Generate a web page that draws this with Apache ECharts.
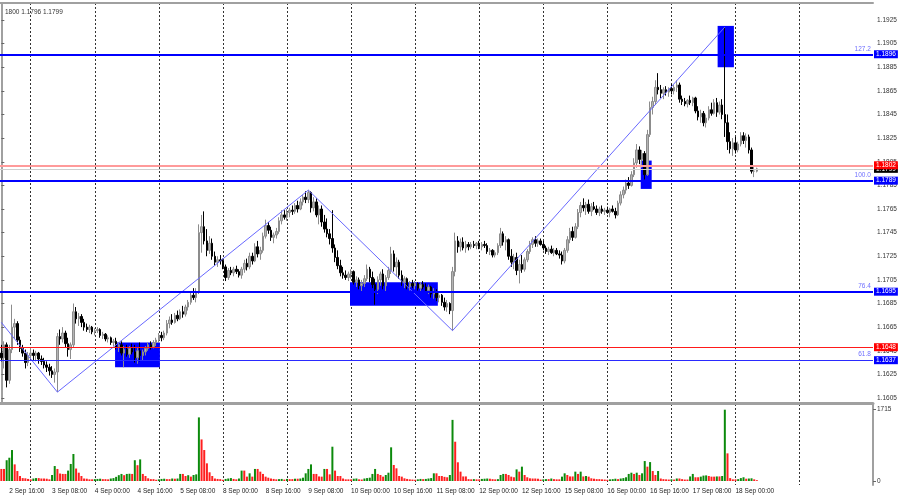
<!DOCTYPE html>
<html><head><meta charset="utf-8">
<script src="https://cdn.jsdelivr.net/npm/echarts@6/dist/echarts.min.js"></script>
<style>html,body{margin:0;padding:0;background:#fff}#c{width:900px;height:500px}</style>
</head><body><div id="c"></div>
<script>
// Hourly EURUSD candles, 2 Sep 13:00 .. 18 Sep 08:00 (284 bars)
const opens = [
1.1643,1.1639,1.1650,1.1620,1.1646,1.1665,1.1668,1.1654,1.1647,1.1643,1.1635,
1.1641,1.1643,1.1641,1.1643,1.1638,1.1636,1.1633,1.1631,1.1628,1.1625,1.1627,1.1657,1.1655,1.1660,1.1651,1.1646,1.1650,1.1678,1.1672,1.1674,1.1669,1.1665,1.1663,1.1665,
1.1661,1.1662,1.1663,1.1658,1.1659,1.1655,1.1656,1.1652,1.1653,1.1648,1.1650,1.1643,1.1646,1.1642,1.1647,1.1644,1.1639,1.1645,1.1641,1.1644,1.1647,1.1650,1.1648,1.1652,
1.1654,1.1658,1.1656,1.1660,1.1668,1.1671,1.1669,1.1675,1.1672,1.1678,1.1676,1.1682,1.1686,1.1692,1.1690,1.1695,1.1745,1.1750,1.1738,1.1730,1.1736,1.1725,1.1720,1.1722,
1.1721,1.1716,1.1707,1.1713,1.1711,1.1714,1.1712,1.1709,1.1714,1.1719,1.1716,1.1725,1.1721,1.1733,1.1727,1.1730,1.1742,1.1751,1.1747,1.1741,1.1743,1.1746,1.1755,1.1760,
1.1758,1.1762,1.1764,1.1763,1.1768,1.1765,1.1771,1.1775,1.1773,1.1779,1.1766,1.1771,1.1760,1.1765,1.1754,1.1748,1.1744,1.1740,1.1732,1.1724,1.1717,1.1711,1.1709,1.1707,
1.1710,1.1712,1.1703,1.1705,1.1700,1.1702,1.1706,1.1714,1.1707,1.1701,1.1697,1.1705,1.1710,1.1700,1.1707,1.1713,1.1727,1.1716,1.1720,1.1709,1.1703,1.1706,1.1699,1.1702,
1.1700,1.1702,1.1698,1.1701,1.1699,1.1696,1.1699,1.1693,1.1695,1.1690,1.1692,1.1686,1.1682,1.1685,1.1679,1.1712,1.1738,1.1733,1.1737,1.1732,1.1735,1.1733,1.1735,1.1734,
1.1736,1.1733,1.1735,1.1734,1.1729,1.1730,1.1726,1.1728,1.1734,1.1744,1.1737,1.1739,1.1725,1.1720,1.1724,1.1713,1.1718,1.1714,1.1722,1.1729,1.1735,1.1739,1.1736,1.1738,
1.1735,1.1732,1.1729,1.1731,1.1728,1.1730,1.1727,1.1726,1.1721,1.1730,1.1739,1.1746,1.1741,1.1750,1.1762,1.1768,1.1766,1.1769,1.1763,1.1767,1.1765,1.1762,1.1765,1.1763,
1.1764,1.1762,1.1765,1.1763,1.1760,1.1770,1.1777,1.1781,1.1787,1.1785,1.1794,1.1804,1.1815,1.1807,1.1812,1.1794,1.1828,1.1851,1.1856,1.1868,1.1866,1.1863,1.1866,1.1864,
1.1867,1.1865,1.1868,1.1870,1.1858,1.1856,1.1854,1.1857,1.1855,1.1859,1.1848,1.1843,1.1846,1.1838,1.1842,1.1849,1.1846,1.1855,1.1847,1.1853,1.1845,1.1838,1.1822,1.1816,
1.1821,1.1815,1.1820,1.1827,1.1823,1.1826,1.1815,1.1797,1.1797
];
const highs = [
1.1650,1.1653,1.1652,1.1650,1.1684,1.1672,1.1670,1.1657,1.1650,1.1646,1.1644,
1.1648,1.1646,1.1645,1.1644,1.1641,1.1639,1.1636,1.1634,1.1632,1.1630,1.1660,1.1663,1.1665,1.1662,1.1656,1.1652,1.1685,1.1682,1.1677,1.1676,1.1672,1.1668,1.1667,1.1666,
1.1664,1.1665,1.1664,1.1661,1.1660,1.1658,1.1657,1.1655,1.1656,1.1652,1.1653,1.1649,1.1650,1.1649,1.1651,1.1650,1.1648,1.1652,1.1646,1.1649,1.1652,1.1653,1.1654,1.1656,
1.1660,1.1661,1.1662,1.1671,1.1674,1.1676,1.1677,1.1679,1.1680,1.1683,1.1684,1.1688,1.1695,1.1698,1.1698,1.1752,1.1760,1.1763,1.1748,1.1742,1.1740,1.1729,1.1725,1.1726,
1.1723,1.1718,1.1715,1.1716,1.1716,1.1717,1.1714,1.1716,1.1722,1.1723,1.1728,1.1728,1.1736,1.1738,1.1733,1.1745,1.1756,1.1754,1.1750,1.1745,1.1749,1.1758,1.1764,1.1764,
1.1765,1.1766,1.1768,1.1770,1.1772,1.1774,1.1777,1.1780,1.1781,1.1780,1.1775,1.1774,1.1768,1.1768,1.1760,1.1757,1.1748,1.1764,1.1735,1.1730,1.1722,1.1716,1.1713,1.1712,
1.1714,1.1713,1.1708,1.1707,1.1705,1.1709,1.1718,1.1716,1.1712,1.1706,1.1708,1.1712,1.1714,1.1709,1.1716,1.1733,1.1730,1.1724,1.1722,1.1713,1.1708,1.1707,1.1704,1.1705,
1.1704,1.1703,1.1703,1.1704,1.1702,1.1701,1.1700,1.1698,1.1697,1.1694,1.1693,1.1690,1.1688,1.1686,1.1716,1.1745,1.1742,1.1740,1.1741,1.1738,1.1737,1.1737,1.1738,1.1737,
1.1738,1.1737,1.1738,1.1736,1.1732,1.1731,1.1730,1.1736,1.1749,1.1746,1.1742,1.1740,1.1731,1.1727,1.1728,1.1722,1.1726,1.1724,1.1731,1.1738,1.1741,1.1742,1.1740,1.1740,
1.1738,1.1734,1.1733,1.1734,1.1732,1.1732,1.1730,1.1729,1.1732,1.1742,1.1749,1.1750,1.1753,1.1765,1.1771,1.1774,1.1771,1.1773,1.1770,1.1771,1.1768,1.1767,1.1768,1.1766,
1.1767,1.1766,1.1768,1.1766,1.1772,1.1780,1.1784,1.1790,1.1792,1.1797,1.1808,1.1820,1.1818,1.1815,1.1814,1.1832,1.1856,1.1860,1.1874,1.1880,1.1870,1.1868,1.1869,1.1868,
1.1871,1.1870,1.1874,1.1872,1.1861,1.1859,1.1858,1.1861,1.1860,1.1860,1.1852,1.1849,1.1848,1.1845,1.1852,1.1855,1.1858,1.1859,1.1856,1.1858,1.1919,1.1845,1.1830,1.1825,
1.1826,1.1822,1.1830,1.1830,1.1829,1.1828,1.1817,1.1801,1.1800
];
const lows = [
1.1636,1.1630,1.1614,1.1617,1.1643,1.1655,1.1650,1.1644,1.1640,1.1630,1.1632,
1.1638,1.1637,1.1636,1.1634,1.1633,1.1630,1.1627,1.1624,1.1622,1.1618,1.1610,1.1650,1.1652,1.1648,1.1640,1.1638,1.1648,1.1668,1.1666,1.1665,1.1662,1.1661,1.1660,1.1659,
1.1658,1.1660,1.1656,1.1655,1.1653,1.1652,1.1650,1.1649,1.1646,1.1644,1.1641,1.1631,1.1640,1.1639,1.1642,1.1635,1.1634,1.1636,1.1637,1.1641,1.1645,1.1646,1.1647,1.1649,
1.1652,1.1653,1.1654,1.1658,1.1664,1.1667,1.1668,1.1670,1.1671,1.1673,1.1674,1.1679,1.1684,1.1688,1.1686,1.1693,1.1728,1.1735,1.1725,1.1727,1.1722,1.1717,1.1716,1.1718,
1.1714,1.1704,1.1705,1.1709,1.1708,1.1710,1.1707,1.1706,1.1711,1.1713,1.1714,1.1718,1.1720,1.1724,1.1722,1.1728,1.1740,1.1744,1.1738,1.1736,1.1740,1.1744,1.1752,1.1756,
1.1755,1.1758,1.1760,1.1761,1.1762,1.1764,1.1768,1.1770,1.1770,1.1762,1.1763,1.1758,1.1752,1.1750,1.1745,1.1741,1.1735,1.1728,1.1720,1.1714,1.1708,1.1706,1.1705,1.1704,
1.1706,1.1701,1.1699,1.1697,1.1695,1.1699,1.1704,1.1703,1.1698,1.1684,1.1693,1.1700,1.1697,1.1694,1.1705,1.1710,1.1712,1.1708,1.1706,1.1700,1.1698,1.1697,1.1696,1.1698,
1.1697,1.1696,1.1695,1.1697,1.1694,1.1693,1.1690,1.1689,1.1687,1.1686,1.1683,1.1679,1.1678,1.1676,1.1662,1.1708,1.1728,1.1729,1.1730,1.1728,1.1730,1.1731,1.1732,1.1731,
1.1731,1.1730,1.1732,1.1727,1.1726,1.1724,1.1724,1.1726,1.1732,1.1734,1.1730,1.1722,1.1716,1.1714,1.1709,1.1702,1.1711,1.1712,1.1720,1.1727,1.1732,1.1733,1.1733,1.1734,
1.1730,1.1727,1.1726,1.1727,1.1725,1.1726,1.1723,1.1718,1.1719,1.1728,1.1736,1.1738,1.1740,1.1748,1.1758,1.1763,1.1760,1.1761,1.1759,1.1764,1.1760,1.1759,1.1761,1.1760,
1.1761,1.1758,1.1762,1.1757,1.1759,1.1768,1.1774,1.1778,1.1782,1.1784,1.1792,1.1800,1.1803,1.1800,1.1790,1.1793,1.1826,1.1845,1.1853,1.1862,1.1859,1.1858,1.1861,1.1860,
1.1862,1.1862,1.1864,1.1855,1.1853,1.1852,1.1851,1.1853,1.1852,1.1846,1.1840,1.1838,1.1835,1.1834,1.1840,1.1844,1.1845,1.1843,1.1845,1.1841,1.1826,1.1815,1.1812,1.1810,
1.1812,1.1813,1.1818,1.1820,1.1817,1.1812,1.1795,1.1792,1.1796
];
const closes = [
1.1639,1.1650,1.1620,1.1646,1.1665,1.1668,1.1654,1.1647,1.1643,1.1635,1.1641,
1.1643,1.1641,1.1643,1.1638,1.1636,1.1633,1.1631,1.1628,1.1625,1.1627,1.1657,1.1655,1.1660,1.1651,1.1646,1.1650,1.1678,1.1672,1.1674,1.1669,1.1665,1.1663,1.1665,1.1661,
1.1662,1.1663,1.1658,1.1659,1.1655,1.1656,1.1652,1.1653,1.1648,1.1650,1.1643,1.1646,1.1642,1.1647,1.1644,1.1639,1.1645,1.1641,1.1644,1.1647,1.1650,1.1648,1.1652,1.1654,
1.1658,1.1656,1.1660,1.1668,1.1671,1.1669,1.1675,1.1672,1.1678,1.1676,1.1682,1.1686,1.1692,1.1690,1.1695,1.1745,1.1750,1.1738,1.1730,1.1736,1.1725,1.1720,1.1722,1.1721,
1.1716,1.1707,1.1713,1.1711,1.1714,1.1712,1.1709,1.1714,1.1719,1.1716,1.1725,1.1721,1.1733,1.1727,1.1730,1.1742,1.1751,1.1747,1.1741,1.1743,1.1746,1.1755,1.1760,1.1758,
1.1762,1.1764,1.1763,1.1768,1.1765,1.1771,1.1775,1.1773,1.1779,1.1766,1.1771,1.1760,1.1765,1.1754,1.1748,1.1744,1.1740,1.1732,1.1724,1.1717,1.1711,1.1709,1.1707,1.1710,
1.1712,1.1703,1.1705,1.1700,1.1702,1.1706,1.1714,1.1707,1.1701,1.1697,1.1705,1.1710,1.1700,1.1707,1.1713,1.1727,1.1716,1.1720,1.1709,1.1703,1.1706,1.1699,1.1702,1.1700,
1.1702,1.1698,1.1701,1.1699,1.1696,1.1699,1.1693,1.1695,1.1690,1.1692,1.1686,1.1682,1.1685,1.1679,1.1712,1.1738,1.1733,1.1737,1.1732,1.1735,1.1733,1.1735,1.1734,1.1736,
1.1733,1.1735,1.1734,1.1729,1.1730,1.1726,1.1728,1.1734,1.1744,1.1737,1.1739,1.1725,1.1720,1.1724,1.1713,1.1718,1.1714,1.1722,1.1729,1.1735,1.1739,1.1736,1.1738,1.1735,
1.1732,1.1729,1.1731,1.1728,1.1730,1.1727,1.1726,1.1721,1.1730,1.1739,1.1746,1.1741,1.1750,1.1762,1.1768,1.1766,1.1769,1.1763,1.1767,1.1765,1.1762,1.1765,1.1763,1.1764,
1.1762,1.1765,1.1763,1.1760,1.1770,1.1777,1.1781,1.1787,1.1785,1.1794,1.1804,1.1815,1.1807,1.1812,1.1794,1.1828,1.1851,1.1856,1.1868,1.1866,1.1863,1.1866,1.1864,1.1867,
1.1865,1.1868,1.1870,1.1858,1.1856,1.1854,1.1857,1.1855,1.1859,1.1848,1.1843,1.1846,1.1838,1.1842,1.1849,1.1846,1.1855,1.1847,1.1853,1.1845,1.1838,1.1822,1.1816,1.1821,
1.1815,1.1820,1.1827,1.1823,1.1826,1.1815,1.1797,1.1797,1.1799
];
const volumes = [
290,290,500,560,745,400,240,120,70,65,50,
40,60,70,70,60,60,55,40,145,360,290,180,170,170,250,410,650,300,200,120,60,55,40,40,
45,50,55,45,45,40,60,70,100,140,170,140,170,175,170,500,380,520,170,120,65,45,45,30,
40,50,55,45,45,60,55,60,170,170,120,140,105,145,160,1530,1000,745,425,210,120,60,50,45,
30,50,60,70,50,40,60,250,250,105,185,105,290,290,225,170,105,80,60,50,40,45,50,35,
50,45,45,55,55,60,80,185,290,400,170,170,110,105,290,290,160,825,250,120,120,60,40,40,
40,55,60,40,35,60,70,80,170,290,170,145,105,145,200,810,385,305,120,105,65,50,40,35,
30,40,50,45,50,60,70,185,185,120,120,100,90,145,1470,945,450,225,110,110,45,40,45,40,
40,50,55,60,55,45,40,45,145,170,170,145,105,90,280,225,345,145,90,65,60,60,55,35,
40,45,45,60,45,40,40,105,185,145,110,110,225,170,225,110,120,105,65,55,45,45,40,35,
30,40,45,55,45,60,70,90,170,200,170,200,145,185,480,345,455,240,145,240,60,45,40,35,
40,35,60,60,45,35,35,110,170,90,90,105,130,135,120,105,105,110,110,120,1715,665,70,40,
40,45,70,90,55,60,65,40,20
];
const timeLabels = ['2 Sep 16:00','3 Sep 08:00','4 Sep 00:00','4 Sep 16:00','5 Sep 08:00','8 Sep 00:00','8 Sep 16:00','9 Sep 08:00','10 Sep 00:00','10 Sep 16:00','11 Sep 08:00','12 Sep 00:00','12 Sep 16:00','15 Sep 08:00','16 Sep 00:00','16 Sep 16:00','17 Sep 08:00','18 Sep 00:00'];
const priceTicks = [1.1605,1.1625,1.1645,1.1665,1.1685,1.1705,1.1725,1.1745,1.1765,1.1785,1.1805,1.1825,1.1845,1.1865,1.1885,1.1905,1.1925];
const volumeTicks = [0, 1715];
const fibValues = [1.1896, 1.1789, 1.1695, 1.1637];
const fibNames = ['127.2', '100.0', '76.4', '61.8'];
const redValues = [1.1802, 1.1648];
const bidValue = 1.1799;
const headerText = '1800 1.1796 1.1799';
// zones: [bar from, bar to, price top, price bottom]
const zones = [[42.6, 59.4, 1.1652, 1.1631], [130.6, 163.5, 1.1703, 1.1683], [239.5, 243.6, 1.1806, 1.1782], [268.3, 274.4, 1.1920, 1.1885]];
const zigzag = [[0, 1.1669], [21, 1.1610], [115, 1.1781], [169, 1.1662], [271, 1.1919]];

const N = opens.length;
const totalSlots = N + 43;
const cats = Array.from({length: totalSlots}, (_, i) => String(i));
const labelIdx = i => { const k = (i - 3) / 16; return (Number.isInteger(k) && k >= 0 && k < timeLabels.length) ? k : -1; };
const dayLine = i => i >= 11 && (i - 11) % 24 === 0 && i <= 299;
const font = 'Liberation Sans';
const gridLine = {show: true, interval: dayLine, alignWithLabel: true, lineStyle: {color: '#333', type: [2, 2], width: 1}};

const candleData = opens.map((o, i) => [o, closes[i], lows[i], highs[i]]);
const volData = volumes.map((v, i) => ({value: v, itemStyle: {color: (i > 0 && v > volumes[i - 1]) ? '#0c8a0c' : '#ff1f1f'}}));

const tag = (v, bg) => ({show: true, position: 'end', distance: 1, formatter: v.toFixed(4), backgroundColor: bg, color: '#fff', fontSize: 6.5, fontFamily: font, padding: [1, 2, 0, 2]});

function levelSeries(v, color, width, bg) {
  return {type: 'line', xAxisIndex: 2, yAxisIndex: 0, data: [], silent: true, z: 4,
    markLine: {silent: true, symbol: ['none', 'none'], animation: false, precision: 4,
      data: [{yAxis: v, lineStyle: {color: color, width: width, type: 'solid'}, label: tag(v, bg)}]}};
}
const levelList = [levelSeries(bidValue, '#cfcfcf', 1, '#000')];
fibValues.forEach((v, k) => {
  const thin = fibNames[k] === '61.8';
  levelList.push(levelSeries(v, thin ? '#2a2aff' : '#0000ff', thin ? 1.2 : 2, '#0000ff'));
});
redValues.forEach((v, k) => levelList.push(levelSeries(v, k === 0 ? '#ff9a9a' : '#ff1a1a', k === 0 ? 2 : 1.2, '#ff0000')));

// fib level names, right-aligned just above each line
const nameSeries = {type: 'scatter', xAxisIndex: 2, yAxisIndex: 0, symbolSize: 0, silent: true, z: 10,
  data: fibValues.map((v, k) => ({value: [totalSlots - 1.3, v], label: {formatter: fibNames[k]}})),
  label: {show: true, position: [0, -9], align: 'right', verticalAlign: 'top', color: '#4a4aff', fontSize: 6.5, fontFamily: font},
  labelLayout: {hideOverlap: false}};

const chart = echarts.init(document.getElementById('c'), null, {renderer: 'canvas'});
chart.setOption({
  animation: false,
  backgroundColor: '#fff',
  textStyle: {fontFamily: font},
  title: {text: headerText, left: 0, top: 4, textStyle: {fontSize: 6.5, fontWeight: 'normal', color: '#333', fontFamily: font}},
  grid: [
    {left: 0, width: 873, top: 3, height: 400},
    {left: 0, width: 873, top: 404, height: 81}
  ],
  xAxis: [
    {type: 'category', gridIndex: 0, data: cats, position: 'top', boundaryGap: true,
     axisLine: {show: true, lineStyle: {color: '#a0a0a0', width: 2}}, axisTick: {show: false}, axisLabel: {show: false},
     splitLine: gridLine},
    {type: 'category', gridIndex: 1, data: cats, position: 'bottom', boundaryGap: true,
     axisLine: {show: false}, axisTick: {show: false},
     axisLabel: {show: true, interval: i => labelIdx(i) >= 0, formatter: (v, i) => { const k = labelIdx(i); return k >= 0 ? timeLabels[k] : ''; },
       align: 'left', fontSize: 6.5, color: '#222', margin: 3, fontFamily: font, hideOverlap: false},
     splitLine: gridLine},
    {type: 'value', gridIndex: 0, position: 'bottom', min: -0.5, max: totalSlots - 0.5,
     axisLine: {show: true, onZero: false, lineStyle: {color: '#a0a0a0', width: 3}}, axisTick: {show: false}, axisLabel: {show: false}, splitLine: {show: false}}
  ],
  yAxis: [
    {type: 'value', gridIndex: 0, position: 'right', min: 1.160077, max: 1.193939, scale: true,
     axisLine: {show: true, lineStyle: {color: '#a0a0a0', width: 2}},
     axisTick: {show: true, length: 3, customValues: priceTicks, lineStyle: {color: '#666'}},
     axisLabel: {show: true, customValues: priceTicks, formatter: v => v.toFixed(4), fontSize: 6.5, color: '#333', margin: 4, fontFamily: font},
     splitLine: {show: false}},
    {type: 'value', gridIndex: 1, position: 'right', min: -96, max: 1852,
     axisLine: {show: true, lineStyle: {color: '#a0a0a0', width: 2}},
     axisTick: {show: true, length: 3, customValues: volumeTicks, lineStyle: {color: '#666'}},
     axisLabel: {show: true, customValues: volumeTicks, formatter: v => String(v), fontSize: 6.5, color: '#333', margin: 4, fontFamily: font},
     splitLine: {show: false}}
  ],
  series: [
    {type: 'line', xAxisIndex: 2, yAxisIndex: 0, data: [], silent: true, z: 1,
     markArea: {silent: true, itemStyle: {color: '#0000ff', opacity: 1},
       data: zones.map(z => [{xAxis: z[0], yAxis: z[2]}, {xAxis: z[1], yAxis: z[3]}])}},
    {type: 'candlestick', xAxisIndex: 0, yAxisIndex: 0, data: candleData, barWidth: 2, z: 2,
     itemStyle: {color: '#b4b4b4', color0: '#000000', borderColor: '#8c8c8c', borderColor0: '#000000', borderWidth: 1}},
    {type: 'line', xAxisIndex: 2, yAxisIndex: 0, data: zigzag, showSymbol: false, silent: true, z: 3,
     lineStyle: {color: '#6868ff', width: 1}},
    {type: 'bar', xAxisIndex: 1, yAxisIndex: 1, data: volData, barWidth: 2, silent: true},
    nameSeries
  ].concat(levelList)
});
</script>
</body></html>
